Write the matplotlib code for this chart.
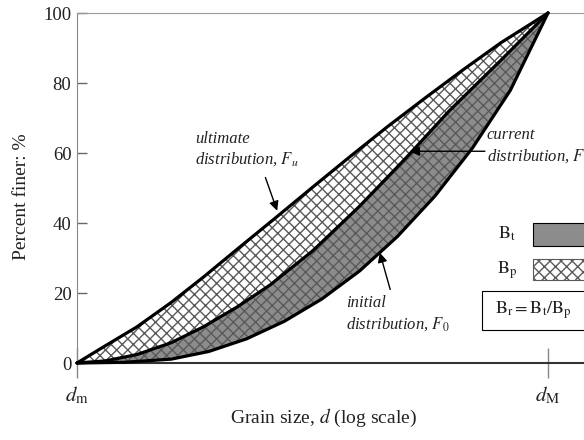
import matplotlib
matplotlib.use("Agg")
import matplotlib.pyplot as plt
from matplotlib.patches import Rectangle
import numpy as np

plt.rcParams["font.family"] = ["Liberation Serif", "DejaVu Serif"]
plt.rcParams["mathtext.fontset"] = "stix"
plt.rcParams["hatch.linewidth"] = 1.0

# x: position between d_m (0) and d_M (1) on the log axis, y: percent finer
x_u = [0, .055, .127, .2, .268, .34, .42, .5, .58, .66, .74, .82, .9, 1.0]
F_u = [0, 4.5, 10.3, 17.3, 24.5, 32.5, 41.3, 50.2, 59, 67.6, 75.8, 83.8, 91.5, 100]

x_c = [0, .06, .127, .2, .268, .34, .41, .5, .6, .7, .79, .9, 1.0]
F_c = [0, 0.6, 2.4, 5.8, 10.3, 16, 22.3, 32, 44.8, 58.8, 72, 86.5, 100]

x_0 = [0, .1, .2, .28, .36, .44, .52, .6, .68, .76, .84, .92, 1.0]
F_0 = [0, 0.2, 1.1, 3.3, 6.9, 11.9, 18.3, 26.3, 36.1, 47.7, 61.5, 77.9, 100]

yticks = [0, 20, 40, 60, 80, 100]
xticks = [0, 1]
xticklabels = [r"$d_{\mathrm{m}}$", r"$d_{\mathrm{M}}$"]

GRAY = "#8c8c8c"
HATCH = "#5a5a5a"

fig = plt.figure(figsize=(5.84, 4.4), dpi=100)
ax = fig.add_axes([77 / 584, 1 - 363 / 440, 1 - 77 / 584, 350 / 440])

# B_t: between current and initial distribution (gray)
ax.fill(np.r_[x_c, x_0[::-1]], np.r_[F_c, F_0[::-1]],
        facecolor=GRAY, edgecolor="none", zorder=1)
# B_p: between ultimate and initial distribution (cross-hatched)
ax.fill(np.r_[x_u, x_0[::-1]], np.r_[F_u, F_0[::-1]],
        facecolor="none", edgecolor=HATCH, lw=0, hatch="xxx", zorder=2)

for xs, ys in [(x_u, F_u), (x_c, F_c), (x_0, F_0)]:
    ax.plot(xs, ys, color="black", lw=2.3, solid_joinstyle="round",
            solid_capstyle="round", zorder=3, clip_on=False)

ax.set_xlim(0, 507 / 471)
ax.set_ylim(0, 100)
ax.set_yticks(yticks)
ax.set_xticks(xticks)
ax.set_xticklabels(xticklabels)
ax.tick_params(axis="y", direction="in", length=7.5, width=1, color="#666",
               labelsize=13.5, pad=4, labelcolor="#222")
ax.tick_params(axis="x", direction="inout", length=21, width=1, color="#888",
               labelsize=15, pad=5, labelcolor="#222")

ax.spines["right"].set_visible(False)
ax.spines["left"].set_color("#888")
ax.spines["top"].set_color("#999")
ax.spines["bottom"].set_color("#333")
ax.spines["bottom"].set_linewidth(1.5)

fig.text(22 / 584, 1 - 197 / 440, "Percent finer: %", rotation=90,
         ha="center", va="center", fontsize=14, color="#222")
fig.text(323 / 584, 1 - 418 / 440, "Grain size, $d$ (log scale)",
         ha="center", va="center", fontsize=14, color="#222")

# annotations
ann = dict(fontsize=12, fontstyle="italic", color="#222", ha="left",
           va="center", linespacing=1.3)
arrow = dict(arrowstyle="-|>", color="black", lw=1.0, mutation_scale=14,
             shrinkA=0, shrinkB=0)
ax.text(0.25, 61, "ultimate\ndistribution, $F_u$", **ann)
ax.annotate("", xy=(0.425, 43.5), xytext=(0.40, 53), arrowprops=arrow)
ax.text(0.87, 62, "current\ndistribution, $F$", clip_on=False, **ann)
ax.annotate("", xy=(0.707, 60.5), xytext=(0.866, 60.5), arrowprops=arrow)
ax.text(0.571, 14, "initial\ndistribution, $F_0$", **ann)
ax.annotate("", xy=(0.643, 31.5), xytext=(0.665, 21), arrowprops=arrow)

# key on the right
tr = ax.transAxes
ax.add_patch(Rectangle((0.899, 0.334), 0.2, 0.066, transform=tr,
                       facecolor=GRAY, edgecolor="black", lw=0.8, clip_on=False))
ax.add_patch(Rectangle((0.899, 0.237), 0.2, 0.06, transform=tr,
                       facecolor="white", edgecolor=HATCH, lw=0.8, hatch="xxx",
                       clip_on=False))
ax.add_patch(Rectangle((0.799, 0.094), 0.3, 0.112, transform=tr,
                       facecolor="white", edgecolor="black", lw=0.8, clip_on=False))
ax.text(0.848, 0.369, r"$\mathrm{B_t}$", transform=tr, fontsize=13,
        ha="center", va="center", color="#222")
ax.text(0.848, 0.266, r"$\mathrm{B_p}$", transform=tr, fontsize=13,
        ha="center", va="center", color="#222")
ax.text(0.9, 0.15, r"$\mathrm{B_r = B_t / B_p}$", transform=tr, fontsize=13,
        ha="center", va="center", color="#222")

fig.savefig("out.png", dpi=100)
